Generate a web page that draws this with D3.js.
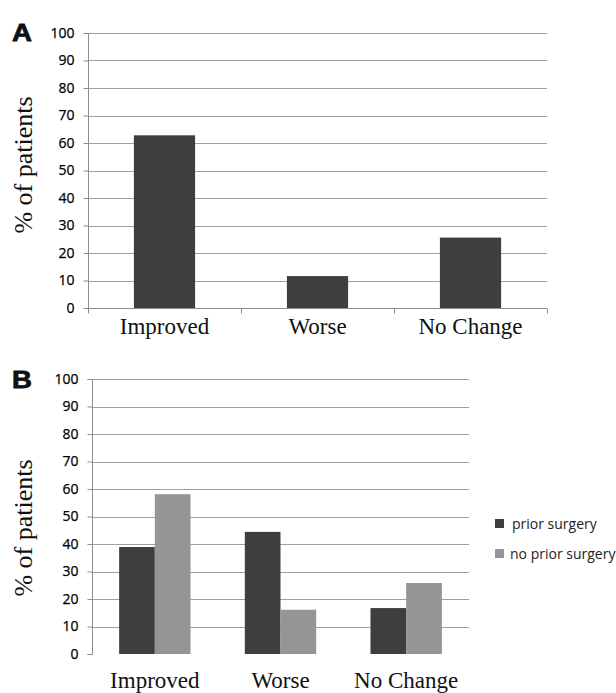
<!DOCTYPE html>
<html>
<head>
<meta charset="utf-8">
<script src="https://cdn.jsdelivr.net/npm/d3@7"></script>
<style>
  html, body { margin: 0; padding: 0; background: #fff; }
  svg { display: block; }
</style>
</head>
<body>
<svg id="chart" width="616" height="693"></svg>
<script>
// ---- data ----
const categories = ["Improved", "Worse", "No Change"];
const valuesA = [62.8, 11.6, 25.6];
const seriesB = ["prior surgery", "no prior surgery"];
const priorSurgery = [38.9, 44.4, 16.7];
const noPriorSurgery = [58.1, 16.1, 25.8];
const yTicks = [0, 10, 20, 30, 40, 50, 60, 70, 80, 90, 100];

const darkColor = "#3e3e3e";
const lightColor = "#959595";
const gridColor = "#a0a0a0";
const axisColor = "#8c8c8c";

const svg = d3.select("#chart");

function panelLetter(g, letter, x, y) {
  g.append("text")
    .attr("transform", `translate(${x},${y}) scale(1.15,1)`)
    .attr("font-family", "Liberation Sans, Arial, sans-serif")
    .attr("font-weight", "bold")
    .attr("font-size", 24)
    .attr("fill", "#111")
    .attr("stroke", "#111")
    .attr("stroke-width", 0.8)
    .text(letter);
}

function yAxisStuff(g, y, x0, x1, drawZeroGrid) {
  g.selectAll(null)
    .data(yTicks.filter(t => drawZeroGrid || t > 0))
    .enter().append("line")
    .attr("x1", x0).attr("x2", x1)
    .attr("y1", d => Math.round(y(d)) + 0.5)
    .attr("y2", d => Math.round(y(d)) + 0.5)
    .attr("stroke", gridColor).attr("stroke-width", 1);
  const ax = d3.axisLeft(y).tickValues(yTicks).tickSize(5).tickPadding(9)
    .tickFormat(d3.format("d"));
  const a = g.append("g").attr("transform", `translate(${x0 + 0.5},0)`).call(ax);
  a.select(".domain").attr("stroke", axisColor).attr("d", `M-5,${Math.round(y(100)) + 0.5}H0V${Math.round(y(0)) + 0.5}H-5`);
  a.selectAll(".tick line").attr("stroke", axisColor);
  a.selectAll(".tick text")
    .attr("font-family", "Open Sans, sans-serif")
    .attr("font-size", 14)
    .attr("fill", "#000")
    .attr("stroke", "#000")
    .attr("stroke-width", 0.25);
}

function yLabel(g, x, y) {
  g.append("text")
    .attr("transform", `translate(${x},${y}) rotate(-90)`)
    .attr("text-anchor", "middle")
    .attr("font-family", "Liberation Serif, Times New Roman, serif")
    .attr("font-size", 26)
    .attr("fill", "#111")
    .text("% of patients");
}

function xLabels(g, x, baseline) {
  g.selectAll(null)
    .data(categories)
    .enter().append("text")
    .attr("x", d => x(d) + x.bandwidth() / 2)
    .attr("y", baseline)
    .attr("text-anchor", "middle")
    .attr("font-family", "Liberation Serif, Times New Roman, serif")
    .attr("font-size", 23)
    .attr("fill", "#111")
    .text(d => d);
}

// ---- Panel A ----
{
  const g = svg.append("g");
  const xA = d3.scaleBand().domain(categories).range([88, 547]).paddingInner(0.6).paddingOuter(0.3);
  const yA = d3.scaleLinear().domain([0, 100]).range([308, 33]);
  yAxisStuff(g, yA, 88, 547, true);
  const step = xA.step();
  const x0 = xA.range()[0];
  g.selectAll(null).data(d3.range(categories.length + 1)).enter().append("line")
    .attr("x1", i => Math.round(x0 + i * step) + 0.5)
    .attr("x2", i => Math.round(x0 + i * step) + 0.5)
    .attr("y1", Math.round(yA(0)) + 0.5).attr("y2", Math.round(yA(0)) + 5.5)
    .attr("stroke", axisColor);
  g.append("line")
    .attr("x1", 88).attr("x2", 547)
    .attr("y1", Math.round(yA(0)) + 0.5).attr("y2", Math.round(yA(0)) + 0.5)
    .attr("stroke", axisColor);
  g.selectAll(null).data(valuesA).enter().append("rect")
    .attr("x", (d, i) => xA(categories[i]))
    .attr("width", xA.bandwidth())
    .attr("y", d => yA(d))
    .attr("height", d => yA(0) - yA(d))
    .attr("fill", darkColor);
  xLabels(g, xA, 334);
  yLabel(g, 32, 165);
  panelLetter(g, "A", 12, 41);
}

// ---- Panel B ----
{
  const g = svg.append("g");
  const xB = d3.scaleBand().domain(categories).range([92, 469]).paddingInner(0.432).paddingOuter(0.216);
  const xInner = d3.scaleBand().domain(seriesB).range([0, xB.bandwidth()]);
  const yB = d3.scaleLinear().domain([0, 100]).range([654, 379]);
  const colors = d3.scaleOrdinal().domain(seriesB).range([darkColor, lightColor]);
  yAxisStuff(g, yB, 92, 469, false);
  const rows = categories.map((c, i) => ({ cat: c, vals: [priorSurgery[i], noPriorSurgery[i]] }));
  const grp = g.selectAll(null).data(rows).enter().append("g")
    .attr("transform", d => `translate(${xB(d.cat)},0)`);
  grp.selectAll("rect").data(d => d.vals.map((v, j) => ({ s: seriesB[j], v })))
    .enter().append("rect")
    .attr("x", d => xInner(d.s))
    .attr("width", xInner.bandwidth())
    .attr("y", d => yB(d.v))
    .attr("height", d => yB(0) - yB(d.v))
    .attr("fill", d => colors(d.s));
  xLabels(g, xB, 688);
  yLabel(g, 32, 528);
  panelLetter(g, "B", 12, 388);

  const lg = g.append("g").attr("transform", "translate(495,519)");
  const item = lg.selectAll(null).data(seriesB).enter().append("g")
    .attr("transform", (d, i) => `translate(0,${i * 30})`);
  item.append("rect").attr("width", 9).attr("height", 9).attr("fill", d => colors(d));
  item.append("text")
    .attr("x", (d, i) => i === 0 ? 17 : 15)
    .attr("y", 9.5)
    .attr("font-family", "Open Sans, sans-serif")
    .attr("font-size", 14)
    .attr("fill", "#222")
    .text(d => d);
}
</script>
</body>
</html>
